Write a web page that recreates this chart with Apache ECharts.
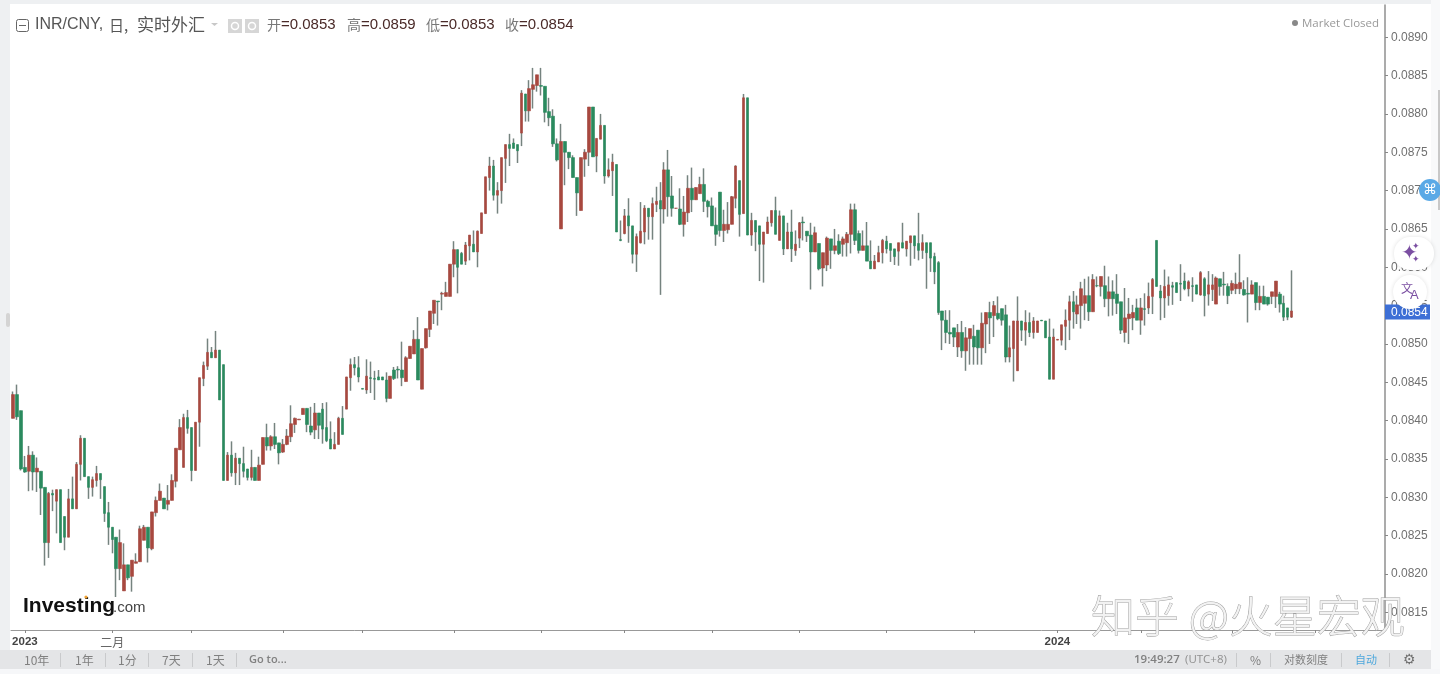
<!DOCTYPE html>
<html><head><meta charset="utf-8">
<style>html,body{margin:0;padding:0;background:#fff}#c{width:1440px;height:674px}</style>
<script src="https://cdn.jsdelivr.net/npm/echarts@6/dist/echarts.min.js"></script>
</head><body><div id="c"></div>
<script>
const opens=[
0.08403,0.08434,0.08413,0.08339,0.08334,0.08355,0.08333,0.08334,0.08313,0.08241,
0.08305,0.08295,0.08310,0.08275,0.08248,0.08298,0.08285,0.08343,0.08377,0.08327,
0.08313,0.08322,0.08331,0.08314,0.08280,0.08261,0.08248,0.08207,0.08178,0.08212,
0.08197,0.08214,0.08216,0.08244,0.08261,0.08233,0.08280,0.08296,0.08299,0.08291,
0.08296,0.08321,0.08362,0.08339,0.08404,0.08391,0.08335,0.08398,0.08455,0.08471,
0.08489,0.08482,0.08492,0.08473,0.08322,0.08355,0.08332,0.08351,0.08344,0.08337,
0.08326,0.08339,0.08322,0.08343,0.08378,0.08367,0.08379,0.08371,0.08359,0.08369,
0.08379,0.08395,0.08401,0.08408,0.08416,0.08393,0.08388,0.08410,0.08415,0.08391,
0.08376,0.08363,0.08369,0.08403,0.08415,0.08456,0.08473,0.08469,0.08442,0.08440,
0.08456,0.08455,0.08457,0.08457,0.08453,0.08429,0.08466,0.08467,0.08466,0.08451,
0.08481,0.08487,0.08506,0.08441,0.08495,0.08519,0.08540,0.08556,0.08565,0.08562,
0.08562,0.08604,0.08623,0.08618,0.08608,0.08628,0.08630,0.08620,0.08644,0.08670,
0.08717,0.08732,0.08694,0.08700,0.08742,0.08760,0.08762,0.08760,0.08775,0.08826,
0.08804,0.08832,0.08837,0.08837,0.08836,0.08803,0.08797,0.08761,0.08650,0.08764,
0.08750,0.08743,0.08717,0.08674,0.08741,0.08750,0.08809,0.08745,0.08767,0.08785,
0.08719,0.08726,0.08734,0.08636,0.08644,0.08667,0.08654,0.08617,0.08632,0.08646,
0.08677,0.08666,0.08682,0.08687,0.08676,0.08727,0.08693,0.08677,0.08676,0.08656,
0.08671,0.08703,0.08688,0.08696,0.08708,0.08686,0.08680,0.08655,0.08698,0.08648,
0.08649,0.08656,0.08690,0.08713,0.08670,0.08821,0.08642,0.08661,0.08654,0.08630,
0.08644,0.08658,0.08674,0.08635,0.08667,0.08624,0.08646,0.08622,0.08638,0.08659,
0.08647,0.08642,0.08620,0.08631,0.08599,0.08603,0.08637,0.08622,0.08634,0.08630,
0.08632,0.08643,0.08675,0.08644,0.08622,0.08628,0.08608,0.08598,0.08607,0.08619,
0.08634,0.08631,0.08624,0.08621,0.08632,0.08624,0.08632,0.08641,0.08631,0.08622,
0.08632,0.08632,0.08614,0.08606,0.08543,0.08531,0.08515,0.08521,0.08496,0.08515,
0.08491,0.08507,0.08510,0.08518,0.08495,0.08526,0.08541,0.08537,0.08540,0.08546,
0.08538,0.08483,0.08494,0.08465,0.08530,0.08518,0.08528,0.08515,0.08515,0.08531,
0.08530,0.08509,0.08454,0.08505,0.08505,0.08523,0.08531,0.08555,0.08539,0.08550,
0.08553,0.08563,0.08542,0.08576,0.08575,0.08576,0.08559,0.08568,0.08565,0.08555,
0.08515,0.08533,0.08534,0.08547,0.08531,0.08546,0.08547,0.08562,0.08635,0.08569,
0.08560,0.08563,0.08576,0.08580,0.08579,0.08582,0.08572,0.08576,0.08577,0.08564,
0.08585,0.08565,0.08571,0.08552,0.08585,0.08578,0.08575,0.08570,0.08572,0.08572,
0.08571,0.08566,0.08565,0.08580,0.08554,0.08562,0.08561,0.08562,0.08562,0.08565,
0.08553,0.08547,0.08535];
const closes=[
0.08434,0.08405,0.08337,0.08333,0.08355,0.08333,0.08338,0.08312,0.08241,0.08305,
0.08303,0.08310,0.08241,0.08248,0.08298,0.08285,0.08343,0.08377,0.08327,0.08313,
0.08323,0.08331,0.08323,0.08279,0.08261,0.08245,0.08207,0.08241,0.08212,0.08195,
0.08218,0.08216,0.08259,0.08261,0.08234,0.08281,0.08296,0.08308,0.08285,0.08296,
0.08322,0.08364,0.08391,0.08404,0.08390,0.08335,0.08398,0.08456,0.08472,0.08489,
0.08482,0.08492,0.08427,0.08322,0.08355,0.08332,0.08351,0.08344,0.08334,0.08326,
0.08339,0.08322,0.08342,0.08378,0.08367,0.08379,0.08369,0.08358,0.08369,0.08380,
0.08396,0.08403,0.08402,0.08416,0.08395,0.08385,0.08410,0.08394,0.08389,0.08374,
0.08363,0.08369,0.08403,0.08382,0.08457,0.08473,0.08469,0.08457,0.08441,0.08458,
0.08455,0.08454,0.08453,0.08453,0.08429,0.08458,0.08455,0.08466,0.08456,0.08482,
0.08497,0.08506,0.08453,0.08494,0.08520,0.08543,0.08557,0.08555,0.08566,0.08567,
0.08604,0.08623,0.08600,0.08604,0.08629,0.08642,0.08620,0.08647,0.08671,0.08718,
0.08732,0.08694,0.08700,0.08743,0.08760,0.08755,0.08755,0.08752,0.08827,0.08804,
0.08833,0.08838,0.08851,0.08836,0.08802,0.08795,0.08761,0.08740,0.08764,0.08750,
0.08743,0.08717,0.08697,0.08743,0.08750,0.08809,0.08744,0.08768,0.08785,0.08719,
0.08727,0.08737,0.08646,0.08635,0.08667,0.08654,0.08617,0.08640,0.08647,0.08677,
0.08666,0.08683,0.08686,0.08676,0.08727,0.08692,0.08677,0.08677,0.08656,0.08672,
0.08703,0.08688,0.08704,0.08708,0.08686,0.08679,0.08654,0.08643,0.08648,0.08656,
0.08656,0.08692,0.08732,0.08669,0.08821,0.08642,0.08661,0.08646,0.08630,0.08646,
0.08659,0.08674,0.08643,0.08667,0.08624,0.08646,0.08624,0.08630,0.08658,0.08658,
0.08641,0.08620,0.08645,0.08598,0.08619,0.08638,0.08622,0.08628,0.08618,0.08637,
0.08643,0.08675,0.08635,0.08622,0.08628,0.08608,0.08598,0.08608,0.08619,0.08635,
0.08624,0.08622,0.08614,0.08632,0.08625,0.08634,0.08641,0.08628,0.08622,0.08632,
0.08619,0.08612,0.08594,0.08541,0.08531,0.08515,0.08513,0.08509,0.08515,0.08491,
0.08508,0.08520,0.08496,0.08495,0.08527,0.08541,0.08534,0.08550,0.08533,0.08531,
0.08483,0.08495,0.08530,0.08530,0.08518,0.08528,0.08515,0.08530,0.08530,0.08530,
0.08508,0.08454,0.08509,0.08506,0.08525,0.08531,0.08555,0.08542,0.08551,0.08572,
0.08563,0.08542,0.08584,0.08576,0.08588,0.08559,0.08568,0.08559,0.08553,0.08518,
0.08534,0.08539,0.08541,0.08531,0.08547,0.08545,0.08562,0.08584,0.08575,0.08560,
0.08575,0.08577,0.08574,0.08567,0.08578,0.08572,0.08581,0.08575,0.08565,0.08593,
0.08563,0.08577,0.08577,0.08586,0.08575,0.08577,0.08563,0.08579,0.08578,0.08580,
0.08564,0.08565,0.08577,0.08554,0.08562,0.08552,0.08552,0.08568,0.08582,0.08552,
0.08535,0.08535,0.08543];
const lows=[
0.08403,0.08401,0.08335,0.08332,0.08308,0.08309,0.08307,0.08277,0.08211,0.08221,
0.08282,0.08253,0.08241,0.08231,0.08248,0.08285,0.08285,0.08322,0.08327,0.08298,
0.08301,0.08314,0.08298,0.08268,0.08238,0.08227,0.08170,0.08192,0.08178,0.08192,
0.08177,0.08214,0.08216,0.08244,0.08215,0.08231,0.08275,0.08296,0.08285,0.08283,
0.08296,0.08313,0.08362,0.08339,0.08383,0.08321,0.08335,0.08366,0.08445,0.08466,
0.08482,0.08482,0.08427,0.08322,0.08322,0.08327,0.08316,0.08316,0.08326,0.08322,
0.08322,0.08322,0.08322,0.08343,0.08361,0.08361,0.08363,0.08343,0.08358,0.08368,
0.08372,0.08384,0.08401,0.08408,0.08385,0.08381,0.08376,0.08376,0.08370,0.08372,
0.08363,0.08363,0.08369,0.08382,0.08415,0.08439,0.08459,0.08450,0.08441,0.08435,
0.08436,0.08427,0.08453,0.08453,0.08424,0.08429,0.08453,0.08455,0.08445,0.08451,
0.08481,0.08487,0.08453,0.08441,0.08494,0.08509,0.08526,0.08524,0.08544,0.08562,
0.08562,0.08587,0.08566,0.08604,0.08603,0.08609,0.08620,0.08600,0.08644,0.08670,
0.08700,0.08687,0.08670,0.08683,0.08710,0.08732,0.08755,0.08736,0.08758,0.08790,
0.08790,0.08807,0.08829,0.08824,0.08789,0.08784,0.08757,0.08738,0.08650,0.08707,
0.08728,0.08717,0.08667,0.08674,0.08718,0.08732,0.08744,0.08724,0.08767,0.08709,
0.08717,0.08693,0.08646,0.08634,0.08643,0.08632,0.08605,0.08594,0.08631,0.08630,
0.08636,0.08636,0.08672,0.08564,0.08657,0.08666,0.08666,0.08676,0.08655,0.08640,
0.08659,0.08672,0.08688,0.08696,0.08672,0.08665,0.08654,0.08628,0.08640,0.08633,
0.08644,0.08656,0.08677,0.08640,0.08670,0.08642,0.08628,0.08621,0.08582,0.08580,
0.08644,0.08653,0.08643,0.08635,0.08616,0.08624,0.08607,0.08615,0.08625,0.08635,
0.08633,0.08571,0.08620,0.08596,0.08575,0.08595,0.08598,0.08617,0.08616,0.08614,
0.08614,0.08618,0.08629,0.08618,0.08622,0.08608,0.08598,0.08598,0.08607,0.08605,
0.08618,0.08607,0.08603,0.08602,0.08625,0.08614,0.08602,0.08611,0.08609,0.08611,
0.08572,0.08594,0.08578,0.08538,0.08492,0.08501,0.08500,0.08496,0.08483,0.08482,
0.08465,0.08473,0.08473,0.08473,0.08473,0.08488,0.08500,0.08509,0.08531,0.08524,
0.08476,0.08476,0.08451,0.08465,0.08504,0.08498,0.08509,0.08507,0.08515,0.08530,
0.08508,0.08454,0.08454,0.08505,0.08498,0.08492,0.08505,0.08520,0.08526,0.08520,
0.08531,0.08530,0.08542,0.08574,0.08562,0.08548,0.08536,0.08537,0.08539,0.08513,
0.08502,0.08500,0.08518,0.08531,0.08512,0.08524,0.08539,0.08539,0.08575,0.08531,
0.08534,0.08550,0.08551,0.08567,0.08556,0.08570,0.08562,0.08555,0.08565,0.08563,
0.08536,0.08550,0.08556,0.08552,0.08563,0.08563,0.08552,0.08565,0.08565,0.08565,
0.08563,0.08528,0.08565,0.08544,0.08544,0.08552,0.08550,0.08552,0.08547,0.08541,
0.08530,0.08531,0.08534];
const highs=[
0.08438,0.08447,0.08413,0.08354,0.08367,0.08360,0.08352,0.08334,0.08313,0.08307,
0.08310,0.08310,0.08310,0.08275,0.08311,0.08327,0.08346,0.08381,0.08377,0.08327,
0.08327,0.08341,0.08331,0.08314,0.08294,0.08261,0.08248,0.08258,0.08240,0.08212,
0.08218,0.08227,0.08263,0.08264,0.08261,0.08281,0.08301,0.08318,0.08299,0.08316,
0.08330,0.08364,0.08402,0.08409,0.08414,0.08391,0.08398,0.08456,0.08477,0.08507,
0.08496,0.08517,0.08492,0.08473,0.08359,0.08373,0.08358,0.08351,0.08366,0.08337,
0.08362,0.08339,0.08353,0.08378,0.08396,0.08381,0.08397,0.08371,0.08376,0.08389,
0.08420,0.08404,0.08402,0.08416,0.08416,0.08418,0.08423,0.08410,0.08423,0.08424,
0.08399,0.08385,0.08405,0.08419,0.08457,0.08481,0.08483,0.08484,0.08442,0.08480,
0.08477,0.08465,0.08466,0.08457,0.08463,0.08458,0.08470,0.08471,0.08503,0.08484,
0.08497,0.08518,0.08535,0.08494,0.08520,0.08543,0.08557,0.08556,0.08568,0.08581,
0.08604,0.08634,0.08623,0.08620,0.08633,0.08642,0.08648,0.08648,0.08671,0.08718,
0.08744,0.08740,0.08711,0.08743,0.08760,0.08774,0.08768,0.08760,0.08831,0.08826,
0.08844,0.08860,0.08851,0.08860,0.08836,0.08821,0.08806,0.08768,0.08787,0.08764,
0.08750,0.08746,0.08717,0.08743,0.08754,0.08809,0.08809,0.08768,0.08800,0.08785,
0.08742,0.08748,0.08734,0.08661,0.08676,0.08690,0.08654,0.08644,0.08685,0.08681,
0.08677,0.08691,0.08705,0.08711,0.08737,0.08753,0.08719,0.08677,0.08703,0.08693,
0.08720,0.08730,0.08704,0.08718,0.08729,0.08688,0.08691,0.08678,0.08698,0.08675,
0.08685,0.08693,0.08733,0.08713,0.08826,0.08821,0.08671,0.08661,0.08654,0.08646,
0.08666,0.08674,0.08692,0.08674,0.08667,0.08658,0.08675,0.08648,0.08659,0.08666,
0.08647,0.08658,0.08653,0.08631,0.08619,0.08640,0.08637,0.08650,0.08643,0.08640,
0.08646,0.08683,0.08683,0.08648,0.08648,0.08659,0.08635,0.08616,0.08628,0.08637,
0.08641,0.08631,0.08624,0.08632,0.08658,0.08634,0.08641,0.08641,0.08671,0.08643,
0.08632,0.08632,0.08619,0.08608,0.08543,0.08544,0.08544,0.08521,0.08526,0.08530,
0.08522,0.08520,0.08525,0.08518,0.08541,0.08541,0.08555,0.08556,0.08562,0.08546,
0.08551,0.08524,0.08530,0.08562,0.08530,0.08544,0.08541,0.08535,0.08530,0.08531,
0.08530,0.08533,0.08520,0.08506,0.08525,0.08545,0.08563,0.08569,0.08563,0.08581,
0.08585,0.08588,0.08591,0.08588,0.08588,0.08602,0.08588,0.08583,0.08591,0.08555,
0.08573,0.08560,0.08551,0.08559,0.08560,0.08566,0.08580,0.08586,0.08635,0.08577,
0.08597,0.08588,0.08581,0.08580,0.08604,0.08593,0.08583,0.08587,0.08577,0.08595,
0.08587,0.08595,0.08591,0.08588,0.08585,0.08594,0.08579,0.08583,0.08593,0.08617,
0.08583,0.08587,0.08583,0.08580,0.08576,0.08576,0.08561,0.08568,0.08582,0.08568,
0.08563,0.08547,0.08596];
const yTicks=[0.0815,0.0820,0.0825,0.0830,0.0835,0.0840,0.0845,0.0850,0.0855,0.0860,0.0865,0.0870,0.0875,0.0880,0.0885,0.0890];
const monthTickIdx=[3,25,45,68,88,111,133,154,176,198,220,242,263,284,307,328];
const monthLabels={3:'2023',25:'二月',263:'2024'};
const lastPrice=0.08542, lastLabel='0.0854';

const SLOTS=346;
const categories=Array.from({length:SLOTS},(_,i)=>monthLabels[i]||('d'+i));
const wickData=opens.map((o,i)=>[o,closes[i],lows[i],highs[i]]);
const bodyData=opens.map((o,i)=>[o,closes[i],Math.min(o,closes[i]),Math.max(o,closes[i])]);

const CJK='"Noto Sans CJK SC","Liberation Sans",sans-serif';
const LAT='"Liberation Sans","Noto Sans CJK SC",sans-serif';
function T(x,y,text,fs,fill,extra){return {type:'text',z:20,x:x,y:y,silent:true,style:Object.assign({text:text,fontSize:fs,fill:fill,fontFamily:CJK,textVerticalAlign:'middle'},extra||{})};}
function R(x,y,w,h,fill,extra){return Object.assign({type:'rect',z:10,silent:true,shape:{x:x,y:y,width:w,height:h},style:{fill:fill}},extra||{});}
const sep=x=>R(x,653,1,14,'#c9cacc',{z:12});
const ohlcRich={l:{fill:'#777',fontSize:14,fontFamily:CJK},v:{fill:'#4a2a28',fontSize:15,fontFamily:LAT}};
const ohlc=(x,l,v)=>({type:'text',z:20,x:x,y:25,silent:true,style:{text:'{l|'+l+'}{v|='+v+'}',rich:ohlcRich,textVerticalAlign:'middle'}});

const graphics=[
 R(0,0,1440,4,'#eef0f2'),
 R(0,0,10,674,'#eef0f2'),
 R(1431,0,9,674,'#f8f9fa'),
 R(1438,90,2,120,'#c8c8c8',{z:11}),
 {type:'rect',z:11,silent:true,shape:{x:6,y:313,width:4,height:14,r:2},style:{fill:'#d4d4d4'}},
 R(0,650,1431,19,'#e4e5e7'),
 R(0,669,1440,5,'#f6f7f9'),
 {type:'rect',z:20,silent:true,shape:{x:16.5,y:19.5,width:12,height:12,r:2},style:{fill:'#fff',stroke:'#666',lineWidth:1}},
 R(19,25,7,1,'#666',{z:21}),
 T(35,25,'INR/CNY,',16,'#555',{fontFamily:LAT}),
 T(109,25,'日,',15,'#555'),
 T(137,25,'实时外汇',17,'#555'),
 {type:'polygon',z:20,silent:true,shape:{points:[[211,23],[218,23],[214.5,26]]},style:{fill:'#c8c8c8'}},
 R(228,19,14,14,'#d6d6d6',{z:20}), R(245,19,14,14,'#d6d6d6',{z:20}),
 {type:'circle',z:21,silent:true,shape:{cx:235,cy:26,r:3.5},style:{fill:'none',stroke:'#fff',lineWidth:1.5}},
 {type:'circle',z:21,silent:true,shape:{cx:252,cy:26,r:3.5},style:{fill:'none',stroke:'#fff',lineWidth:1.5}},
 ohlc(267,'开','0.0853'), ohlc(347,'高','0.0859'), ohlc(426,'低','0.0853'), ohlc(505,'收','0.0854'),
 {type:'circle',z:20,silent:true,shape:{cx:1295,cy:23,r:3},style:{fill:'#888'}},
 T(1302,24,'Market Closed',11.5,'#999',{fontFamily:'"Open Sans","Liberation Sans",sans-serif'}),
 // logo
 T(23,606,'Investing',21,'#111',{fontWeight:'bold',fontFamily:LAT}),
 T(113,608,'.com',15,'#444',{fontFamily:LAT}),
 {type:'circle',z:21,silent:true,shape:{cx:86,cy:597,r:1.6},style:{fill:'#f0a030'}},
 // watermark
 T(1091,616,'知乎 @火星宏观',44,'#f2f2f2',{stroke:'#a0a0a0',lineWidth:1,fontFamily:'"Noto Sans CJK SC",sans-serif',fontWeight:300}),
 // toolbar
 T(24,660,'10年',12,'#808080'), sep(60),
 T(75,660,'1年',12,'#808080'), sep(105),
 T(118,660,'1分',12,'#808080'), sep(148),
 T(162,660,'7天',12,'#808080'), sep(192),
 T(206,660,'1天',12,'#808080'), sep(236),
 T(249,660,'Go to...',11,'#808080',{fontFamily:'"Open Sans",sans-serif',fontWeight:600}),
 T(1134,660,'19:49:27',11.5,'#808080',{fontFamily:'"Open Sans",sans-serif',fontWeight:600}),
 T(1185,660,'(UTC+8)',11.5,'#909090',{fontFamily:'"Open Sans",sans-serif'}),
 sep(1236),
 T(1250,660,'%',12,'#808080'), sep(1270),
 T(1284,660,'对数刻度',11,'#808080'), sep(1341),
 T(1355,660,'自动',11,'#4fa8dc'), sep(1389),
 T(1403,660,'⚙',14,'#707070',{fontFamily:'"DejaVu Sans"'}),
 // last price flag
 R(1385,304.5,45,15,'#3d6fd6',{z:15}),
 T(1391,312.5,lastLabel,12,'#fff',{fontFamily:LAT}),
 // floating buttons
 {type:'circle',z:30,silent:true,shape:{cx:1430,cy:190,r:11},style:{fill:'#5aa9e6'}},
 {type:'rect',z:30,silent:true,shape:{x:1394,y:237,width:40,height:33,r:16},style:{fill:'#fff',shadowBlur:4,shadowColor:'rgba(0,0,0,.12)'}},
 {type:'circle',z:30,silent:true,shape:{cx:1410,cy:292,r:17},style:{fill:'#fff',shadowBlur:4,shadowColor:'rgba(0,0,0,.12)'}},
];
graphics.push(
 {type:'text',z:31,x:1423,y:190,silent:true,style:{text:'⌘',fontSize:14,fill:'#fff',fontFamily:'"DejaVu Sans"',textVerticalAlign:'middle'}},
 {type:'text',z:32,x:1401,y:254,silent:true,style:{text:'✦',fontSize:20,fill:'#7b4fa2',fontFamily:'"DejaVu Sans"',textVerticalAlign:'middle'}},
 {type:'text',z:32,x:1412,y:247,silent:true,style:{text:'✦',fontSize:9,fill:'#7b4fa2',fontFamily:'"DejaVu Sans"',textVerticalAlign:'middle'}},
 {type:'text',z:32,x:1412,y:260,silent:true,style:{text:'✦',fontSize:9,fill:'#7b4fa2',fontFamily:'"DejaVu Sans"',textVerticalAlign:'middle'}},
 {type:'text',z:32,x:1401,y:288,silent:true,style:{text:'文',fontSize:12,fill:'#7b4fa2',fontFamily:CJK,textVerticalAlign:'middle'}},
 {type:'text',z:32,x:1410,y:295,silent:true,style:{text:'A',fontSize:13,fill:'#7b4fa2',fontFamily:LAT,textVerticalAlign:'middle'}}
);

const chart=echarts.init(document.getElementById('c'),null,{renderer:'canvas'});
const GREEN='#2a8a5e',RED='#a8483f',WICK='#75837f';
chart.setOption({
 animation:false,
 backgroundColor:'#fff',
 grid:{left:11,top:5,width:1374,height:625,containLabel:false},
 tooltip:{show:false},
 xAxis:{type:'category',data:categories,boundaryGap:true,
  axisLine:{show:true,lineStyle:{color:'#999',width:1}},
  axisTick:{show:true,alignWithLabel:true,length:3,interval:i=>monthTickIdx.includes(i),lineStyle:{color:'#888'}},
  axisLabel:{show:true,margin:6,interval:i=>monthLabels[i]!==undefined,
   formatter:v=>/^\d{4}$/.test(v)?'{y|'+v+'}':(v.startsWith('d')?'':'{m|'+v+'}'),
   hideOverlap:false,
   rich:{y:{fontSize:11.5,fontWeight:'bold',color:'#444',fontFamily:LAT},m:{fontSize:12,color:'#666',fontFamily:CJK}}},
  splitLine:{show:false}},
 yAxis:{type:'value',position:'right',min:0.08127,max:0.08942,scale:true,
  axisLine:{show:true,lineStyle:{color:'#8f8f8f',width:1.5}},
  axisTick:{show:true,length:3,customValues:yTicks,lineStyle:{color:'#888'}},
  axisLabel:{show:true,margin:6,padding:[2,0,0,0],customValues:yTicks,formatter:v=>v.toFixed(4),fontSize:12,color:'#707070',fontFamily:LAT},
  splitLine:{show:false}},
 graphic:{elements:graphics},
 series:[
  {name:'wick',type:'candlestick',data:wickData,barWidth:1,z:2,silent:true,
   itemStyle:{color:WICK,color0:WICK,borderColor:WICK,borderColor0:WICK,borderWidth:1.5},
   markLine:{silent:true,symbol:'none',animation:false,label:{show:false},
    lineStyle:{color:'#7f98c4',type:'dotted',width:1},data:[{yAxis:lastPrice}]}},
  {name:'INR/CNY',type:'candlestick',data:bodyData,barWidth:3,z:3,silent:true,
   itemStyle:{color:RED,color0:GREEN,borderColor:RED,borderColor0:GREEN,borderWidth:0.6}}
 ]
});
</script></body></html>
